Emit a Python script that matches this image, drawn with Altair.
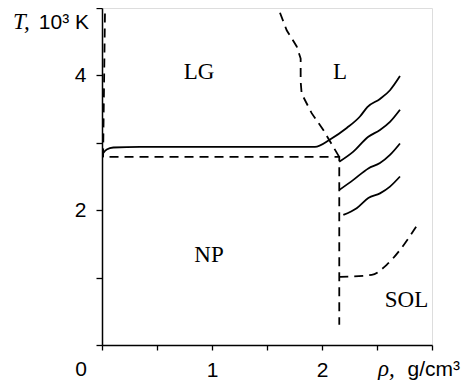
import altair as alt
import pandas as pd

# ---- solid curves (rho in g/cm3, T in 10^3 K) ----
s1_rho = [0.006, 0.043, 0.103, 0.345, 1.936, 2.073, 2.225, 2.345, 2.412, 2.527, 2.618, 2.709]
s1_T = [2.84, 2.90, 2.93, 2.94, 2.94, 3.05, 3.22, 3.39, 3.53, 3.65, 3.78, 3.99]
s2_rho = [2.157, 2.285, 2.421, 2.527, 2.618, 2.709]
s2_T = [2.72, 2.87, 3.09, 3.19, 3.31, 3.49]
s3_rho = [2.157, 2.285, 2.421, 2.527, 2.618, 2.709]
s3_T = [2.30, 2.45, 2.62, 2.70, 2.82, 2.99]
s4_rho = [2.194, 2.315, 2.421, 2.527, 2.618, 2.709]
s4_T = [1.93, 2.03, 2.18, 2.25, 2.35, 2.50]

# ---- dashed boundaries ----
dNP_rho = [0.027, 0.010, 2.157, 2.157]
dNP_T = [4.92, 2.79, 2.79, 0.30]
dL_rho = [1.618, 1.679, 1.770, 1.806, 1.806, 1.815, 1.906, 2.012, 2.157]
dL_T = [4.93, 4.67, 4.43, 4.25, 3.91, 3.73, 3.44, 3.19, 2.79]
dS_rho = [2.157, 2.452, 2.588, 2.709, 2.866]
dS_T = [1.01, 1.04, 1.19, 1.41, 1.78]

# ---- region labels ----
reg_text = ["LG", "L", "NP", "SOL"]
reg_rho = [0.882, 2.164, 0.973, 2.768]
reg_T = [3.95, 3.95, 1.23, 0.57]

x_ticks = [0, 0.5, 1, 1.5, 2, 2.5, 3]
y_ticks = [0, 0.5, 1, 1.5, 2, 2.5, 3, 3.5, 4, 4.5, 5]


def frame(name, xs, ys):
    return pd.DataFrame({"rho": xs, "T": ys, "series": name, "order": list(range(len(xs)))})


solid = pd.concat([frame("s1", s1_rho, s1_T), frame("s2", s2_rho, s2_T),
                   frame("s3", s3_rho, s3_T), frame("s4", s4_rho, s4_T)])
dashed_lin = pd.concat([frame("dNP", dNP_rho, dNP_T), frame("dL", dL_rho, dL_T)])
dashed_curve = frame("dS", dS_rho, dS_T)
regions = pd.DataFrame({"label": reg_text, "rho": reg_rho, "T": reg_T})

W, H = 330, 337

xscale = alt.Scale(domain=[0, 3], nice=False, zero=False)
yscale = alt.Scale(domain=[0, 5], nice=False, zero=False)

xaxis = alt.Axis(values=x_ticks, title=None, grid=False, domainColor="black", domainWidth=1.5,
                 tickColor="black", tickWidth=1.3, tickSize=5,
                 labelExpr="(datum.value == 1 || datum.value == 2) ? format(datum.value, 'd') : ''",
                 labelFont="Liberation Sans", labelFontSize=21, labelColor="black", labelPadding=9)
yaxis = alt.Axis(values=y_ticks, title=None, grid=False, domainColor="black", domainWidth=1.5,
                 tickColor="black", tickWidth=1.3, tickSize=6,
                 labelExpr="(datum.value == 2 || datum.value == 4) ? format(datum.value, 'd') : ''",
                 labelFont="Liberation Sans", labelFontSize=21, labelColor="black", labelPadding=10)

base_solid = alt.Chart(solid).mark_line(color="black", strokeWidth=1.8, interpolate="monotone").encode(
    x=alt.X("rho:Q", scale=xscale, axis=xaxis),
    y=alt.Y("T:Q", scale=yscale, axis=yaxis),
    detail="series:N",
    order="order:Q",
)

base_dashed = alt.Chart(dashed_lin).mark_line(color="black", strokeWidth=1.8, strokeDash=[9, 6]).encode(
    x=alt.X("rho:Q", scale=xscale),
    y=alt.Y("T:Q", scale=yscale),
    detail="series:N",
    order="order:Q",
)

sol_dashed = alt.Chart(dashed_curve).mark_line(color="black", strokeWidth=1.8, strokeDash=[9, 6],
                                               interpolate="monotone").encode(
    x=alt.X("rho:Q", scale=xscale),
    y=alt.Y("T:Q", scale=yscale),
    order="order:Q",
)

labels = alt.Chart(regions).mark_text(font="Liberation Serif", fontSize=23, color="black",
                                      align="center", baseline="alphabetic").encode(
    x=alt.X("rho:Q", scale=xscale),
    y=alt.Y("T:Q", scale=yscale),
    text="label:N",
)

ann = pd.DataFrame({"k": [0]})
t_ital = alt.Chart(ann).mark_text(text="T,", font="Liberation Serif", fontStyle="italic", fontSize=23,
                                  align="left", baseline="alphabetic", color="black").encode(
    x=alt.value(-89), y=alt.value(21))
t_unit = alt.Chart(ann).mark_text(text="10³ K", font="Liberation Sans", fontSize=21,
                                  align="right", baseline="alphabetic", color="black").encode(
    x=alt.value(-13), y=alt.value(21))
r_ital = alt.Chart(ann).mark_text(text="ρ,", font="Liberation Serif", fontStyle="italic", fontSize=23,
                                  align="left", baseline="alphabetic", color="black").encode(
    x=alt.value(276), y=alt.value(368))
r_unit = alt.Chart(ann).mark_text(text="g/cm³", font="Liberation Sans", fontSize=21,
                                  align="right", baseline="alphabetic", color="black").encode(
    x=alt.value(358), y=alt.value(368))
zero = alt.Chart(ann).mark_text(text="0", font="Liberation Sans", fontSize=21,
                                align="center", baseline="alphabetic", color="black").encode(
    x=alt.value(-21), y=alt.value(368))

chart = alt.layer(base_solid, base_dashed, sol_dashed, labels, t_ital, t_unit, r_ital, r_unit, zero).properties(
    width=W, height=H,
    autosize=alt.AutoSizeParams(type="none"),
    padding={"left": 94, "top": 0, "right": 29, "bottom": 35},
).configure_view(stroke=None).configure(background="white")

chart.save("out.html", embed_options={"renderer": "svg", "actions": False})
